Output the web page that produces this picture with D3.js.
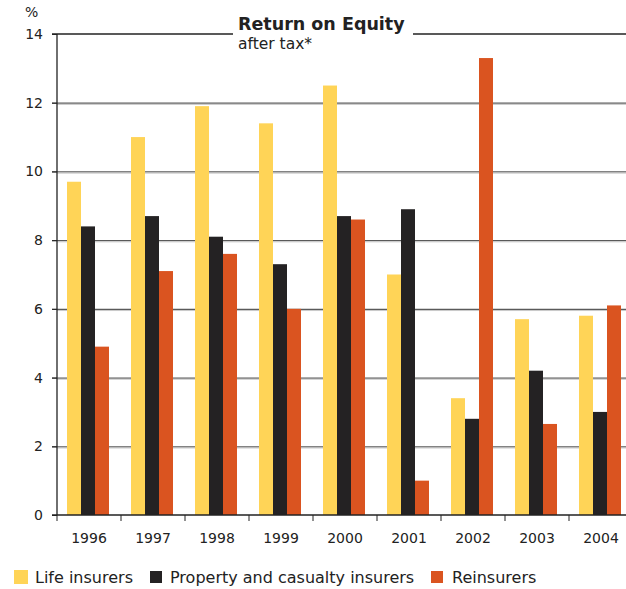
<!DOCTYPE html>
<html>
<head>
<meta charset="utf-8">
<script src="https://cdn.jsdelivr.net/npm/d3@7"></script>
<style>
body { margin: 0; background: #fff; }
text { font-family: "DejaVu Sans", Verdana, sans-serif; fill: #222; }
</style>
</head>
<body>
<div id="chart"></div>
<script>
// Return on Equity, after tax
var years = ["1996", "1997", "1998", "1999", "2000", "2001", "2002", "2003", "2004"];
var series = ["Life insurers", "Property and casualty insurers", "Reinsurers"];
var life = [9.7, 11.0, 11.9, 11.4, 12.5, 7.0, 3.4, 5.7, 5.8];
var property = [8.4, 8.7, 8.1, 7.3, 8.7, 8.9, 2.8, 4.2, 3.0];
var reins = [4.9, 7.1, 7.6, 6.0, 8.6, 1.0, 13.3, 2.65, 6.1];
var yTicks = [0, 2, 4, 6, 8, 10, 12, 14];

var color = {"Life insurers": "#FFD457", "Property and casualty insurers": "#242223", "Reinsurers": "#DA5420"};
var values = {"Life insurers": life, "Property and casualty insurers": property, "Reinsurers": reins};

var W = 626, H = 589;
var svg = d3.select("#chart").append("svg").attr("width", W).attr("height", H);

var x = d3.scaleBand().domain(years).range([57, 57 + 64 * 9]);
var x1 = d3.scaleBand().domain(series).range([10, 52]);
var y = d3.scaleLinear().domain([0, 14]).range([515, 34]);

// gridlines
var grid = svg.append("g");
yTicks.filter(d => d > 0 && d < 14).forEach(function(t) {
  grid.append("line").attr("x1", 52).attr("x2", W).attr("y1", y(t) + 0.5).attr("y2", y(t) + 0.5)
    .attr("stroke", "#5a5a5a").attr("stroke-width", 1.3);
  grid.append("line").attr("x1", 57).attr("x2", W).attr("y1", y(t) + 1.7).attr("y2", y(t) + 1.7)
    .attr("stroke", "#c8c8c8").attr("stroke-width", 1);
});
grid.append("line").attr("x1", 52).attr("x2", W).attr("y1", y(14)).attr("y2", y(14))
  .attr("stroke", "#222").attr("stroke-width", 1.3);

// bars
var data = [];
years.forEach(function(yr, i) {
  series.forEach(function(s) { data.push({year: yr, s: s, v: values[s][i]}); });
});
svg.append("g").selectAll("rect").data(data).join("rect")
  .attr("x", d => x(d.year) + x1(d.s))
  .attr("width", x1.bandwidth())
  .attr("y", d => y(d.v))
  .attr("height", d => y(0) - y(d.v))
  .attr("fill", d => color[d.s]);

// y axis
var yAxis = svg.append("g").attr("transform", "translate(57,0)")
  .call(d3.axisLeft(y).tickValues(yTicks).tickSize(5).tickPadding(9));
yAxis.select(".domain").attr("stroke", "#222").attr("stroke-width", 1.3).attr("d", "M0," + y(14) + "V" + y(0));
yAxis.selectAll(".tick line").attr("stroke", "#222");
yAxis.selectAll("text").style("font-size", "14px").attr("fill", "#222");

// x axis
var xAxis = svg.append("g").attr("transform", "translate(0,515)");
xAxis.append("line").attr("x1", 52).attr("x2", W).attr("stroke", "#222").attr("stroke-width", 1.5);
xAxis.selectAll("line.tk").data(years).join("line").attr("class", "tk")
  .attr("x1", d => x(d)).attr("x2", d => x(d)).attr("y1", 0).attr("y2", 6)
  .attr("stroke", "#222");
xAxis.selectAll("text").data(years).join("text")
  .attr("x", d => x(d) + x.bandwidth() / 2).attr("y", 28)
  .attr("text-anchor", "middle").style("font-size", "14px").text(d => d);

// unit
svg.append("text").attr("x", 25).attr("y", 17).style("font-size", "14px").text("%");

// title
var tg = svg.append("g");
var bg = tg.append("rect").attr("fill", "#fff");
tg.append("text").attr("x", 238).attr("y", 30).style("font-size", "17.5px").style("font-weight", "bold")
  .text("Return on Equity");
tg.append("text").attr("x", 238).attr("y", 49).style("font-size", "15.5px").attr("fill", "#333")
  .text("after tax*");
bg.attr("x", 233).attr("y", 12).attr("width", 180).attr("height", 42);

// legend
var legend = [
  {s: "Life insurers", sx: 14, sz: 14, tx: 35},
  {s: "Property and casualty insurers", sx: 150, sz: 12, tx: 170},
  {s: "Reinsurers", sx: 431, sz: 12, tx: 452}
];
var lg = svg.append("g");
legend.forEach(function(l) {
  lg.append("rect").attr("x", l.sx).attr("y", 577 - l.sz / 2).attr("width", l.sz).attr("height", l.sz)
    .attr("fill", color[l.s]);
  lg.append("text").attr("x", l.tx).attr("y", 583).style("font-size", "16px").attr("fill", "#333").text(l.s);
});
</script>
</body>
</html>
